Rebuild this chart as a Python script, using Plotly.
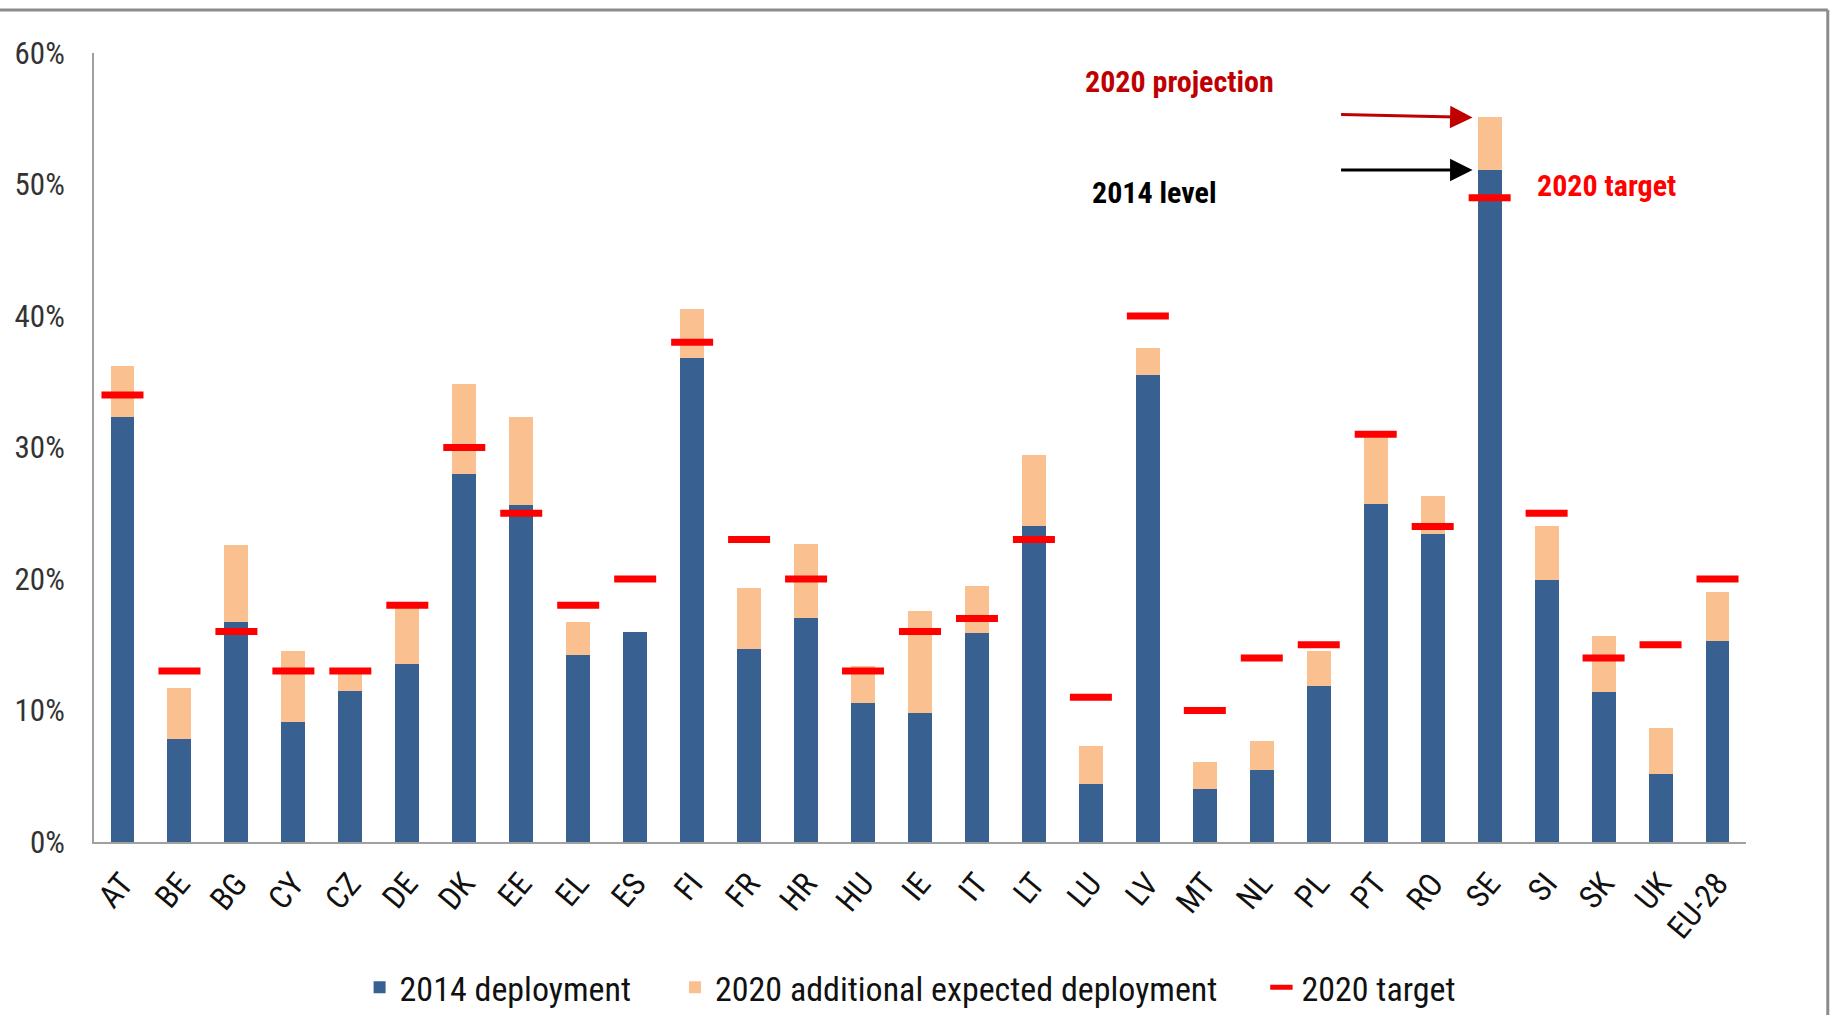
import plotly.graph_objects as go

countries = ["AT", "BE", "BG", "CY", "CZ", "DE", "DK", "EE", "EL", "ES", "FI", "FR", "HR", "HU",
             "IE", "IT", "LT", "LU", "LV", "MT", "NL", "PL", "PT", "RO", "SE", "SI", "SK", "UK", "EU-28"]
deploy_2014 = [32.3, 7.8, 16.7, 9.1, 11.5, 13.5, 28.0, 25.6, 14.2, 16.0, 36.8, 14.7, 17.0, 10.6,
               9.8, 15.9, 24.0, 4.4, 35.5, 4.0, 5.5, 11.9, 25.7, 23.4, 51.1, 19.9, 11.4, 5.2, 15.3]
projection_2020 = [36.2, 11.7, 22.6, 14.5, 13.1, 17.9, 34.8, 32.3, 16.7, 16.0, 40.5, 19.3, 22.7, 13.4,
                   17.6, 19.5, 29.4, 7.3, 37.6, 6.1, 7.7, 14.5, 30.9, 26.3, 55.1, 24.0, 15.7, 8.7, 19.0]
target_2020 = [34, 13, 16, 13, 13, 18, 30, 25, 18, 20, 38, 23, 20, 13,
               16, 17, 23, 11, 40, 10, 14, 15, 31, 24, 49, 25, 14, 15, 20]
additional_2020 = [round(p - d, 2) for p, d in zip(projection_2020, deploy_2014)]
y_ticks = [0, 10, 20, 30, 40, 50, 60]
y_tick_labels = ["0%", "10%", "20%", "30%", "40%", "50%", "60%"]

FONT = "Liberation Sans Narrow, Roboto Condensed, Liberation Sans, Arial"
BLUE = "#386192"
ORANGE = "#FAC090"
RED = "#FF0000"

fig = go.Figure()
fig.add_trace(go.Bar(x=countries, y=deploy_2014, name="2014 deployment     ",
                     marker=dict(color=BLUE, line=dict(width=0))))
fig.add_trace(go.Bar(x=countries, y=additional_2020, name="2020 additional expected deployment     ",
                     marker=dict(color=ORANGE, line=dict(width=0))))
fig.add_trace(go.Scatter(x=countries, y=target_2020, name="2020 target", mode="markers",
                         marker=dict(symbol="line-ew", size=30, color=RED,
                                     line=dict(color=RED, width=7))))

se = countries.index("SE")
fig.add_annotation(x=se - 0.3, y=projection_2020[se], xref="x", yref="y", ax=-133, ay=-3,
                   showarrow=True, arrowhead=2, arrowsize=1.5, arrowwidth=3, arrowcolor="#C00000",
                   text="")
fig.add_annotation(x=se - 0.3, y=deploy_2014[se], xref="x", yref="y", ax=-133, ay=0,
                   showarrow=True, arrowhead=2, arrowsize=1.5, arrowwidth=3, arrowcolor="#000000",
                   text="")
fig.add_annotation(x=se - 5.45, y=57.8, xref="x", yref="y", showarrow=False,
                   text="<b>2020 projection</b>", font=dict(family=FONT, size=30, color="#C00000"))
fig.add_annotation(x=se - 5.9, y=49.4, xref="x", yref="y", showarrow=False,
                   text="<b>2014 level</b>", font=dict(family=FONT, size=30, color="#000000"))
fig.add_annotation(x=se + 2.05, y=49.9, xref="x", yref="y", showarrow=False,
                   text="<b>2020 target</b>", font=dict(family=FONT, size=30, color=RED))

# partial frame (top and right border)
fig.add_shape(type="line", xref="paper", yref="paper", x0=-0.06, x1=1.0495, y0=1.0545, y1=1.0545,
              line=dict(color="#8C8C8C", width=3))
fig.add_shape(type="line", xref="paper", yref="paper", x0=1.0495, x1=1.0495, y0=1.0545, y1=-0.23,
              line=dict(color="#8C8C8C", width=3))

fig.update_layout(
    width=1837, height=1015,
    barmode="stack", bargap=0.58,
    paper_bgcolor="white", plot_bgcolor="white",
    margin=dict(l=94, r=91, t=53, b=173, autoexpand=False),
    font=dict(family=FONT, size=24, color="#222222"),
    showlegend=True,
    legend=dict(orientation="h", x=0.494, xanchor="center", y=-0.148, yanchor="top",
                font=dict(family=FONT, size=34, color="#111111"), traceorder="normal",
                itemwidth=30),
    xaxis=dict(tickangle=-50, showline=True, linecolor="#A0A0A0", linewidth=2,
               ticks="", tickfont=dict(family=FONT, size=32, color="#111111"),
               ticklabelstandoff=8,
               range=[-0.5, len(countries) - 0.5], automargin=False),
    yaxis=dict(range=[0, 60], tickmode="array", tickvals=y_ticks, ticktext=y_tick_labels,
               showgrid=False, showline=True, linecolor="#A0A0A0", linewidth=2, ticks="",
               zeroline=False, automargin=False, ticklabelstandoff=21,
               tickfont=dict(family=FONT, size=31, color="#333333")),
)

fig.write_html("out.html", config={"displayModeBar": False},
               post_script="document.body.style.margin='0';document.body.style.overflow='hidden';")
